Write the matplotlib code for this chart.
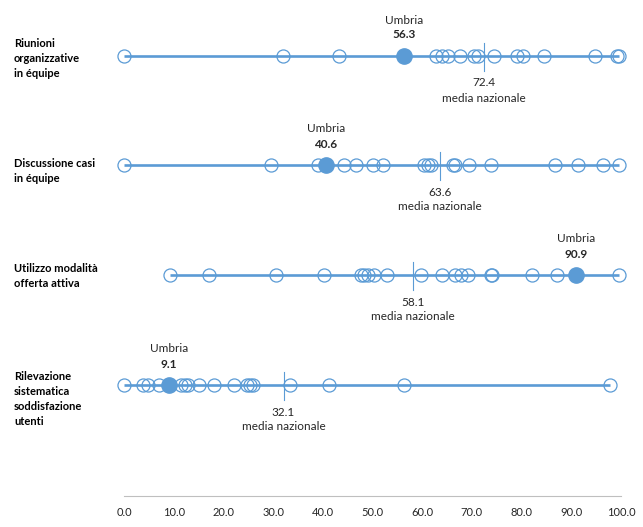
import matplotlib
matplotlib.use("Agg")
import matplotlib.pyplot as plt

plt.rcParams['font.family'] = ['Lato', 'DejaVu Sans']

categories = [
    "Riunioni\norganizzative\nin équipe",
    "Discussione casi\nin équipe",
    "Utilizzo modalità\nofferta attiva",
    "Rilevazione\nsistematica\nsoddisfazione\nutenti",
]

# regional values per indicator
regions_1 = [0.0, 32.0, 43.3, 62.8, 64.0, 65.1, 67.7, 70.4, 71.3, 74.4, 79.1, 80.2,
             84.5, 94.8, 99.1, 99.6]
regions_2 = [0.0, 29.6, 39.0, 44.3, 46.6, 50.0, 52.2, 60.3, 61.2, 61.8, 66.1, 66.6,
             69.4, 73.9, 86.8, 91.3, 96.4, 99.5]
regions_3 = [9.3, 17.1, 30.5, 40.3, 47.6, 48.3, 49.0, 50.3, 53.0, 59.8, 64.0, 66.5,
             67.9, 69.3, 73.8, 74.0, 82.0, 87.1, 99.6]
regions_4 = [0.0, 3.9, 4.8, 7.0, 11.5, 12.3, 12.9, 15.0, 18.2, 22.1, 24.7, 25.4,
             25.9, 33.4, 41.3, 56.3, 97.8]
regions = [regions_1, regions_2, regions_3, regions_4]

umbria = [56.3, 40.6, 90.9, 9.1]
media_nazionale = [72.4, 63.6, 58.1, 32.1]

xticks = [0, 10, 20, 30, 40, 50, 60, 70, 80, 90, 100]

blue = '#5B9BD5'

fig = plt.figure(figsize=(6.43, 5.27), dpi=100)
# y axis in pixel-like units (top = 0) so rows sit where they do in the original
ax = fig.add_axes([124 / 643, 31 / 527, 497 / 643, 496 / 527])
ax.set_xlim(0, 100)
ax.set_ylim(496, 0)

row_y = [56, 165, 275, 385]
label_y = [38, 158, 263, 371]

for i, vals in enumerate(regions):
    y = row_y[i]
    all_vals = vals + [umbria[i]]
    ax.plot([min(all_vals), max(all_vals)], [y, y], color=blue, lw=1.9,
            solid_capstyle='butt', zorder=1, clip_on=False)
    ax.plot(vals, [y] * len(vals), linestyle='none', marker='o', markersize=9.4,
            mfc='none', mec=blue, mew=0.9, zorder=2, clip_on=False)
    ax.plot([umbria[i]], [y], linestyle='none', marker='o', markersize=11,
            mfc=blue, mec=blue, zorder=3, clip_on=False)
    # national average tick
    ax.plot([media_nazionale[i]] * 2, [y - 13, y + 15], color=blue, lw=0.8, zorder=2)
    ax.text(media_nazionale[i], y + 27, f"{media_nazionale[i]:.1f}", ha='center',
            va='center', fontsize=8.5, color='#262626')
    ax.text(media_nazionale[i], y + 42, "media nazionale", ha='center',
            va='center', fontsize=8.5, color='#262626')
    ax.text(umbria[i], y - 36, "Umbria", ha='center', va='center', fontsize=8.5,
            color='#262626')
    ax.text(umbria[i], y - 21, f"{umbria[i]:.1f}", ha='center', va='center',
            fontsize=8.5, fontweight='bold', color='#262626')
    fig.text(14 / 643, 1 - label_y[i] / 527, categories[i], ha='left', va='top',
             fontsize=8, fontweight='bold', linespacing=1.45, color='black')

for side in ['top', 'left', 'right']:
    ax.spines[side].set_visible(False)
ax.spines['bottom'].set_color('#BFBFBF')
ax.spines['bottom'].set_linewidth(0.8)
ax.set_xticks(xticks)
ax.set_xticklabels([f"{t:.1f}" for t in xticks], fontsize=8, color='#262626')
ax.tick_params(axis='x', length=0, pad=8)
ax.set_yticks([])
ax.patch.set_alpha(0)

fig.savefig("out.png", dpi=100)
